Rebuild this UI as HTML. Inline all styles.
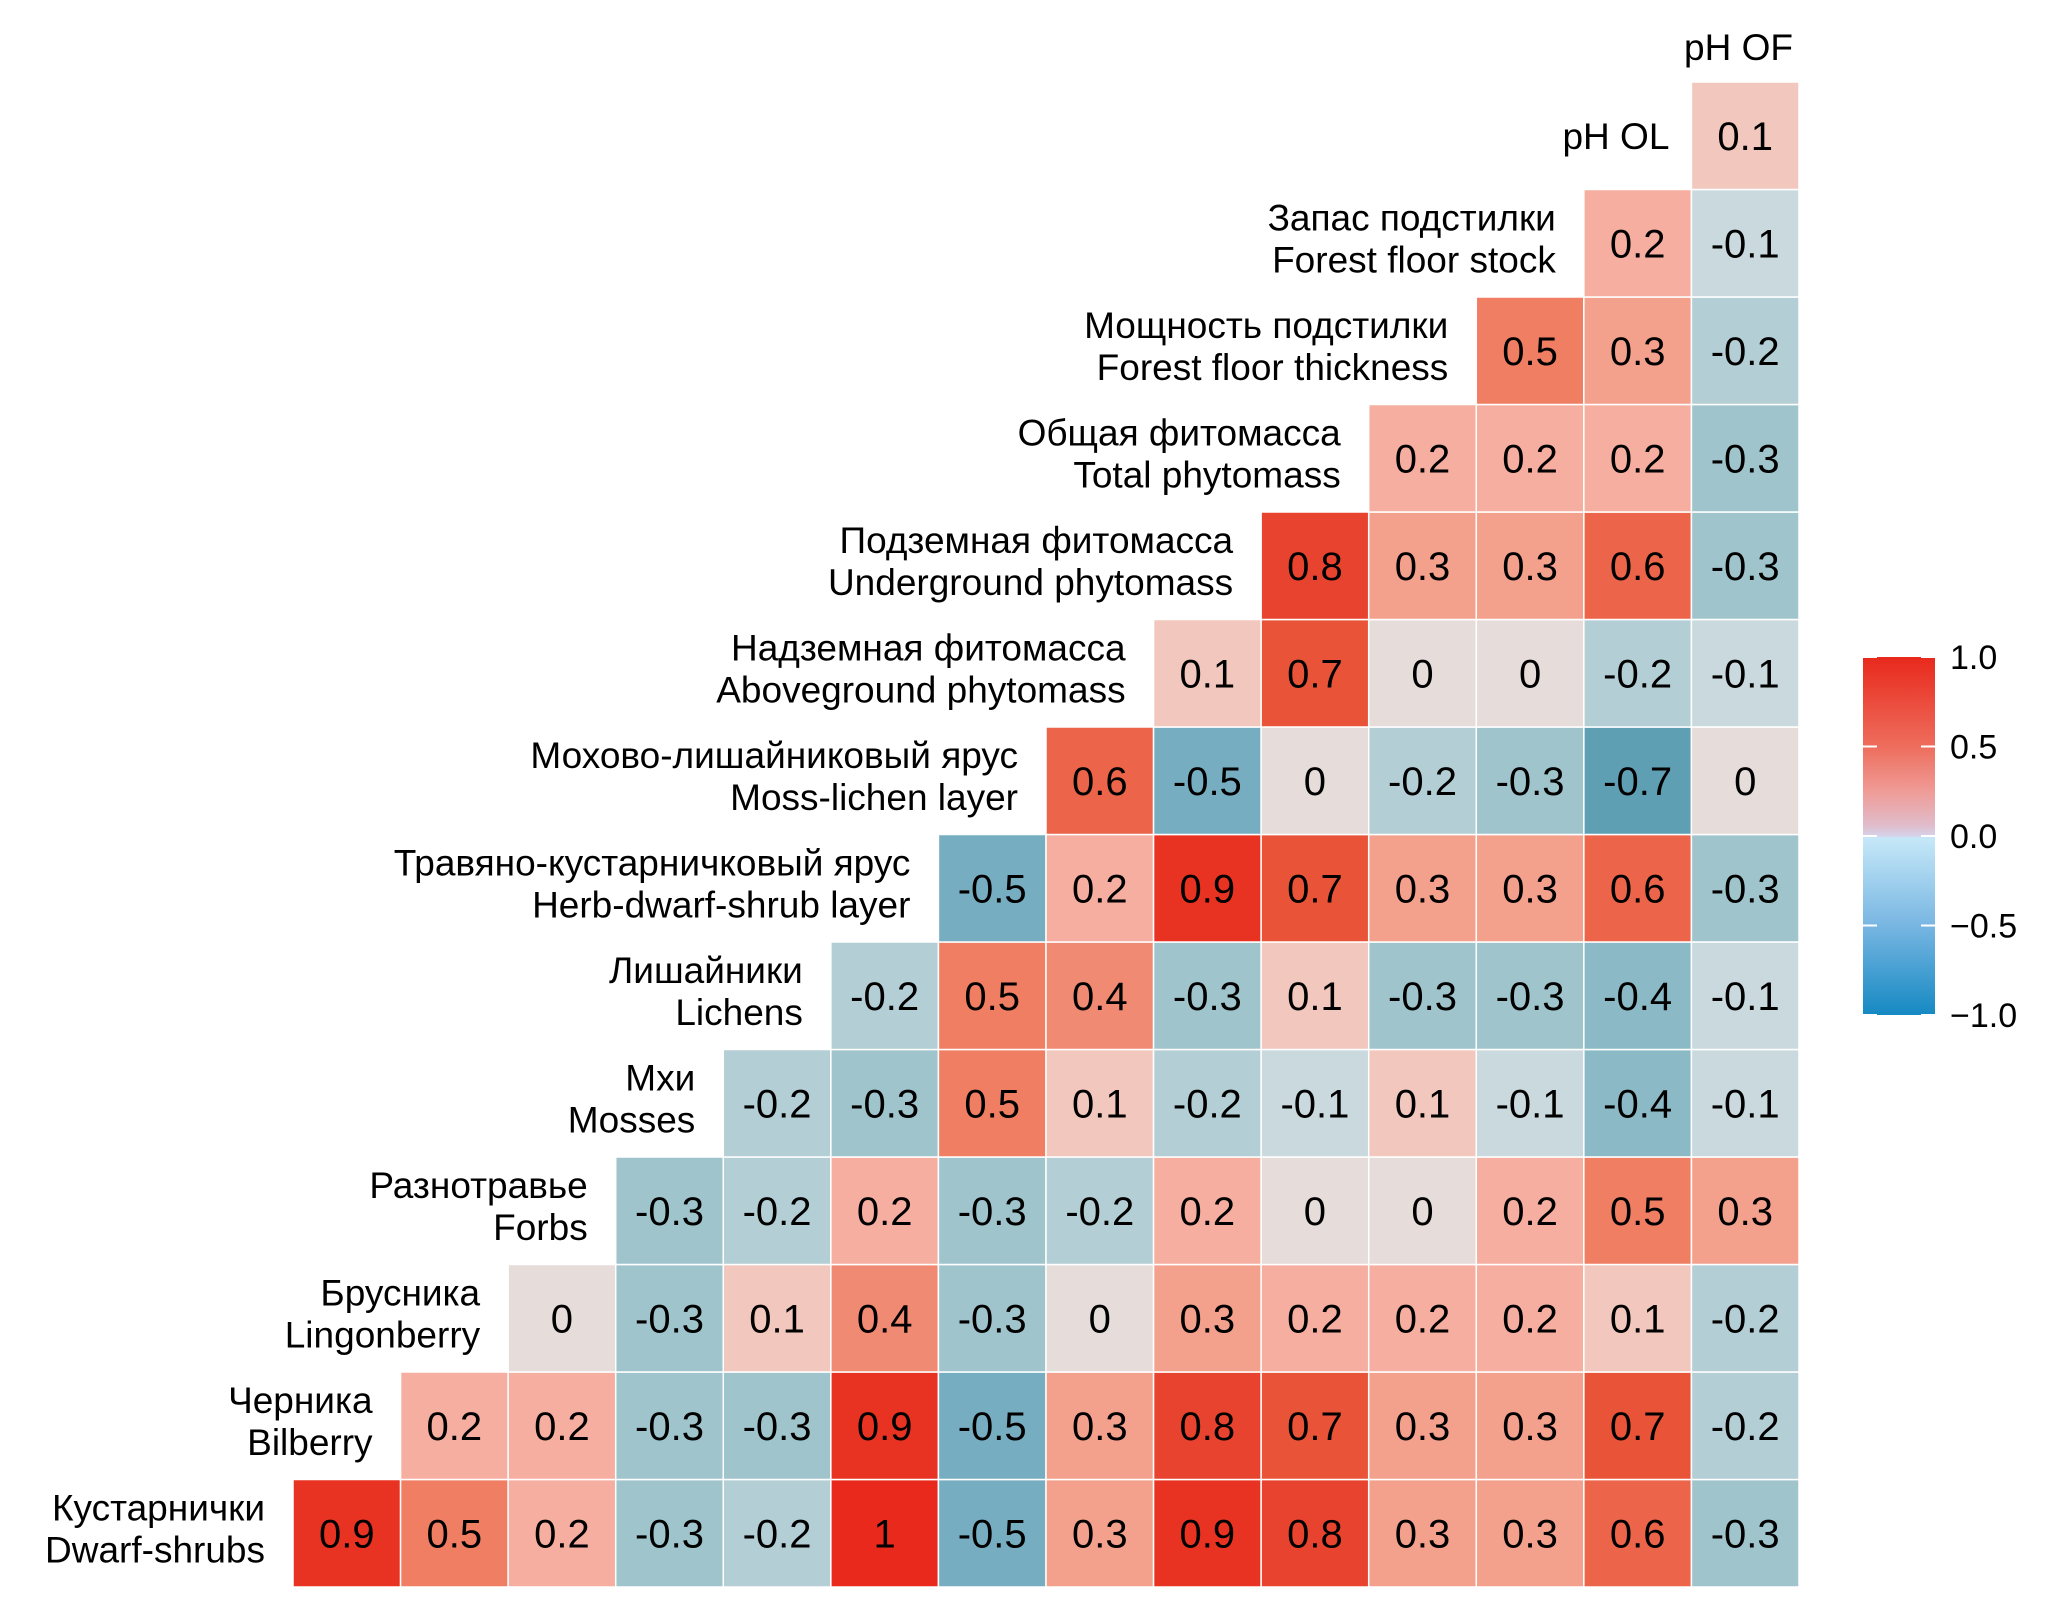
<!DOCTYPE html>
<html><head><meta charset="utf-8">
<style>
html,body{margin:0;padding:0;background:#fff;}
svg{display:block;font-family:"Liberation Sans",Arial,sans-serif;}
</style></head>
<body>
<svg id="chart" width="2054" height="1616" viewBox="0 0 2054 1616" xmlns="http://www.w3.org/2000/svg">
<defs>
<linearGradient id="cbgrad" x1="0" y1="0" x2="0" y2="1">
<stop offset="0" stop-color="#e8291c"/>
<stop offset="0.25" stop-color="#ee6d5c"/>
<stop offset="0.38" stop-color="#ef9d99"/>
<stop offset="0.47" stop-color="#e0bccb"/>
<stop offset="0.5" stop-color="#d6d2ea"/>
<stop offset="0.505" stop-color="#c6e8f8"/>
<stop offset="0.75" stop-color="#78b6e2"/>
<stop offset="1" stop-color="#1589c2"/>
</linearGradient>
</defs>
<g id="cells"></g>
<g id="labels"></g>
<g id="legend">
<rect x="1863" y="657" width="72" height="358" fill="url(#cbgrad)"/>
</g>
</svg>
<script>
const varRu = ["Кустарнички","Черника","Брусника","Разнотравье","Мхи","Лишайники","Травяно-кустарничковый ярус","Мохово-лишайниковый ярус","Надземная фитомасса","Подземная фитомасса","Общая фитомасса","Мощность подстилки","Запас подстилки","pH OL","pH OF"];
const varEn = ["Dwarf-shrubs","Bilberry","Lingonberry","Forbs","Mosses","Lichens","Herb-dwarf-shrub layer","Moss-lichen layer","Aboveground phytomass","Underground phytomass","Total phytomass","Forest floor thickness","Forest floor stock","",""];
const row0 = [0.9,0.5,0.2,-0.3,-0.2,1,-0.5,0.3,0.9,0.8,0.3,0.3,0.6,-0.3];
const row1 = [0.2,0.2,-0.3,-0.3,0.9,-0.5,0.3,0.8,0.7,0.3,0.3,0.7,-0.2];
const row2 = [0,-0.3,0.1,0.4,-0.3,0,0.3,0.2,0.2,0.2,0.1,-0.2];
const row3 = [-0.3,-0.2,0.2,-0.3,-0.2,0.2,0,0,0.2,0.5,0.3];
const row4 = [-0.2,-0.3,0.5,0.1,-0.2,-0.1,0.1,-0.1,-0.4,-0.1];
const row5 = [-0.2,0.5,0.4,-0.3,0.1,-0.3,-0.3,-0.4,-0.1];
const row6 = [-0.5,0.2,0.9,0.7,0.3,0.3,0.6,-0.3];
const row7 = [0.6,-0.5,0,-0.2,-0.3,-0.7,0];
const row8 = [0.1,0.7,0,0,-0.2,-0.1];
const row9 = [0.8,0.3,0.3,0.6,-0.3];
const row10 = [0.2,0.2,0.2,-0.3];
const row11 = [0.5,0.3,-0.2];
const row12 = [0.2,-0.1];
const row13 = [0.1];
const legendTicks = [1.0,0.5,0.0,-0.5,-1.0];
const legendTickLabels = ["1.0","0.5","0.0","\u22120.5","\u22121.0"];

const rows=[row0,row1,row2,row3,row4,row5,row6,row7,row8,row9,row10,row11,row12,row13];
const X0=293, X1=1799, YB=1587, YT=82, N=14;
const cw=(X1-X0)/N, ch=(YB-YT)/N;
function xCol(c){return X0+c*cw;}
function yRow(r){return YB-(r+1)*ch;}
const stops=[[-1,[21,137,194]],[-0.7,[95,159,180]],[-0.5,[119,173,192]],[-0.3,[159,196,204]],[-0.2,[179,206,212]],[-0.1,[201,217,221]],[0,[230,220,218]],[0.1,[242,199,189]],[0.2,[245,174,159]],[0.3,[243,160,141]],[0.4,[240,138,115]],[0.5,[239,126,99]],[0.6,[236,100,73]],[0.7,[233,84,57]],[0.8,[232,67,46]],[0.9,[232,50,34]],[1,[232,41,28]]];
function color(v){
  for(let i=0;i<stops.length-1;i++){
    const a=stops[i],b=stops[i+1];
    if(v>=a[0]&&v<=b[0]){const t=(v-a[0])/(b[0]-a[0]);
      const c=a[1].map((x,k)=>Math.round(x+(b[1][k]-x)*t));return 'rgb('+c.join(',')+')';}
  }
  const e=v<0?stops[0][1]:stops[stops.length-1][1];
  return 'rgb('+e.join(',')+')';
}
const NS="http://www.w3.org/2000/svg";
function mk(tag,attrs,parent){const e=document.createElementNS(NS,tag);for(const k in attrs)e.setAttribute(k,attrs[k]);parent.appendChild(e);return e;}
const gC=document.getElementById('cells'), gL=document.getElementById('labels'), gLeg=document.getElementById('legend');
rows.forEach((vals,r)=>{
  vals.forEach((v,i)=>{
    const c=r+i;
    const rect=mk('rect',{x:xCol(c),y:yRow(r),width:cw,height:ch,fill:color(v),stroke:'#fff','stroke-width':1.5},gC);
    
    
    const t=mk('text',{x:xCol(c)+cw/2,y:yRow(r)+ch/2+14,'text-anchor':'middle','font-size':40,fill:'#000'},gC);
    t.textContent=String(v);
    
    
  });
});
for(let r=0;r<N;r++){
  const yc=yRow(r)+ch/2;
  const xr=xCol(r)-(varEn[r]?28:22);
  const t=mk('text',{x:xr,'text-anchor':'end','font-size':37,fill:'#000'},gL);
  
  
  if(varEn[r]){
    t.setAttribute('y',yc-13);
    const s1=mk('tspan',{x:xr},t); s1.textContent=varRu[r];
    const s2=mk('tspan',{x:xr,dy:42},t); s2.textContent=varEn[r];
  } else { t.setAttribute('y',yc+13); t.textContent=varRu[r]; }
}
const topLabel=mk('text',{x:X1-6,y:60,'text-anchor':'end','font-size':37,fill:'#000'},gL);
topLabel.textContent=varRu[14];


const CBY0=657, CBY1=1015;
function yLeg(v){return CBY0+(1-v)/2*(CBY1-CBY0);}
legendTicks.forEach((v,i)=>{
  const y=yLeg(v);
  const l1=mk('line',{x1:1863,x2:1877,y1:y,y2:y,stroke:'#fff','stroke-width':2},gLeg);
  
  
  const l2=mk('line',{x1:1921,x2:1935,y1:y,y2:y,stroke:'#fff','stroke-width':2},gLeg);
  
  
  const t=mk('text',{x:1950,y:y+12,'font-size':34,fill:'#000'},gLeg);
  t.textContent=legendTickLabels[i];
  
  
});
</script>
</body></html>
